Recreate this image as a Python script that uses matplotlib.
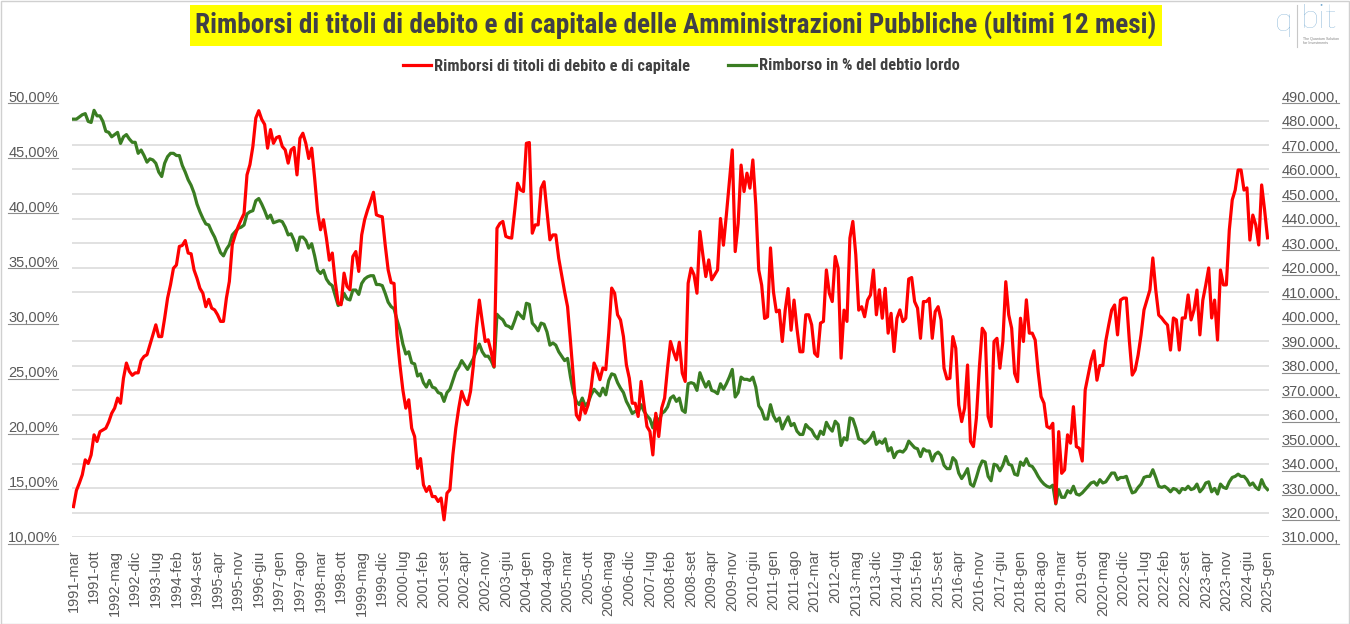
import numpy as np
import matplotlib
matplotlib.use("Agg")
import matplotlib.pyplot as plt
from matplotlib.lines import Line2D
from matplotlib.patches import Rectangle
from matplotlib import font_manager
from matplotlib.font_manager import FontProperties

# ---------------- data ----------------
mesi = ["gen", "feb", "mar", "apr", "mag", "giu", "lug", "ago", "set", "ott", "nov", "dic"]
start_year, start_month = 1991, 2      # 1991-mar (0-based month index)
n_months = 407                          # through 2025-gen
categories = []
for i in range(n_months):
    k = start_month + i
    categories.append(f"{start_year + k // 12}-{mesi[k % 12]}")

# Rimborsi di titoli di debito e di capitale (ultimi 12 mesi), thousands
rimborsi_k = [
    322.4, 329, 332, 335.4, 341.5, 340, 343.5, 351.7, 349, 353,
    353.7, 354.4, 357, 360.5, 362.6, 366.7, 364.6, 374.8, 381, 377.6,
    376, 377, 377, 382, 383.7, 384.4, 388.4, 392.5, 396.6, 391.8,
    391.8, 399.3, 407.5, 413, 419.7, 421, 428.6, 429, 431, 425.9,
    425.6, 419, 415.6, 411.5, 409.5, 404, 407, 403.4, 402.7, 400.7,
    398, 398, 407.5, 414.3, 429.3, 433.3, 436.7, 439.5, 442, 457.8,
    462, 469.4, 481, 484, 480.5, 478.4, 468.7, 476.3, 470.7, 473,
    473.5, 469.4, 468, 462.6, 468, 469, 457.8, 472.7, 474.8, 470.7,
    464.5, 468.7, 456.5, 442.9, 435.4, 439.5, 432, 423, 425.9, 414.3,
    405.4, 404.8, 417.7, 412.3, 410.9, 424.5, 426.5, 418.4, 433.3, 439.5,
    443.5, 447, 450.7, 441.5, 441, 440.7, 429.1, 419, 413.8, 413.5,
    392.4, 380.3, 370, 362.6, 366, 354.4, 351, 338, 342, 331.3,
    328.6, 330.6, 326.5, 326.5, 324.5, 325.9, 317, 327.9, 329.3, 343.5,
    354.4, 362.6, 369.4, 366,
    364, 369.4, 380.3, 395.2, 406.7, 398,
    389.8, 390.5, 385.7, 379.6, 436, 438, 438.8, 432.7, 432.2, 432,
    442.9, 454.4, 451.7, 451, 470.7, 471, 434, 437.4, 437.4, 452.4,
    455, 442.9, 431.3, 433.3, 433.3, 423.7, 416.9, 410.1, 404, 389.7,
    374.8, 359.8, 357.8, 364.6, 360.5, 364, 370.8, 381, 378.3, 374.2,
    379, 378.3, 393.2, 411.6, 409.5, 400.7, 398.6, 391.8, 380.3, 374.8,
    364.6, 364.6, 359.2, 373.5, 364, 355.1, 353.1, 343.5, 360.5, 351,
    362.6, 366.7, 379,
    389.8, 385.7, 382.3, 389.5, 376.9, 373.5, 413.6,
    419.7, 417, 409.5, 434.7, 425.2, 416.3, 423.1, 415, 417, 419,
    440, 429.1, 441.5, 455, 468, 426.5, 438, 461.8, 451, 458.5,
    452.4, 463.9, 445.6, 419, 412.8, 399.2, 399.9, 428, 410.1, 401.9,
    402.6, 389.8, 402.6, 411.4, 394.4, 406.7, 395.1, 385.6, 385.6, 400.7,
    400.7, 396.6, 385, 383.7, 397.3, 398, 419, 409.5, 406.1, 424.5,
    419.7, 383, 402.6, 398, 432, 438.8, 425.2, 402.6, 404, 399.9,
    406.7,
    408.8, 419.0, 400.7, 410.9, 399.3, 411.5, 393.2, 401.3, 385.7,
    399.3, 402.7, 397.9, 399.3, 415.3, 415.9, 406.1, 403.4, 391.1, 406.1,
    406.1, 407.4, 391.1, 402.0, 404.0, 398.6, 378.9, 374.5, 374.8, 391.8,
    387.0, 363.9, 357.1, 362.6, 380.2, 349.0, 346.9, 358.5, 378.9, 395.2,
    393.2, 359.2, 355.1, 389.8, 391.1, 378.9, 389.8, 414.2, 400.7, 395.2,
    376.8, 373.4, 399.3, 389.8, 406.8, 393.2, 393.2, 390.4, 377.5, 367.3,
    364.6, 355.1, 354.4, 356.4, 323.8, 353.0, 336.0, 337.4, 351.7, 348.3,
    363.2, 346.9, 346.2,
    341, 370, 376, 382, 386, 374, 380, 380, 390, 396.5,
    402.6, 404.7, 392.5, 406.7, 407.5, 407.5, 390.4, 376.1, 378.2, 384.3,
    392.5, 402.7, 406.7, 410.8, 423.9, 410.8, 400.6, 399.4, 397.8, 396.5,
    386.3, 399.4, 398.6, 386.3, 399.4, 399.4, 408.8, 398.6, 402.7, 410.8,
    392.5, 406.7, 412.9, 419.8, 399.4, 406.7, 390.4, 419, 412.9, 412.9,
    435.3, 447.6, 451.6, 459.8, 459.8, 451.6, 452.5, 431.2, 441.4, 437.4,
    429.2, 453.7, 443.5, 432.1,
]

# Rimborso in % del debito lordo
rimborso_pct = [
    47.9, 47.9, 48.1, 48.3, 48.4, 47.7, 47.6, 48.7, 48.2, 48.2,
    47.7, 46.8, 46.7, 46.3, 46.5, 46.7, 45.7, 46.3, 46.5, 46.1,
    45.8, 45.8, 44.8, 45.1, 44.6, 44.0, 44.3, 44.2, 43.9, 43.1,
    42.7, 43.9, 44.5, 44.8, 44.8, 44.6, 44.6, 43.7, 43.1, 42.4,
    41.9, 41.2, 40.2, 39.5, 38.9, 38.4, 38.3, 37.7, 37.2, 36.5,
    35.8, 35.5, 36.1, 36.5, 37.4, 37.7, 38.0, 38.1, 38.3, 39.3,
    39.5, 39.6, 40.5, 40.7, 40.2, 39.6, 38.9, 39.2, 38.5, 38.6,
    38.7, 38.6, 38.1, 37.4, 37.5, 36.9, 36.0, 37.2, 37.2, 36.9,
    36.2, 36.6, 35.5, 34.2, 33.9, 34.2, 33.4, 33.0, 32.8, 31.9,
    31.0, 31.2, 32.1, 31.6, 31.5, 32.4, 32.4, 32.0, 33.0, 33.4,
    33.6, 33.7, 33.7, 32.9, 32.9, 32.8, 32.1, 31.3, 30.9, 30.7,
    29.7, 28.8, 27.5, 26.6, 26.8, 25.8, 25.7, 24.6, 24.8, 24.0,
    23.6, 24.2, 23.6, 23.5, 23.1, 23.0, 22.3, 23.1, 23.4, 24.2,
    25.0, 25.4, 26.0, 25.6,
    25.2, 25.7, 26.2, 26.9, 27.5, 26.8,
    26.4, 26.4, 26.0, 25.4, 30.2, 29.9, 29.7, 29.2, 29.1, 28.9,
    29.6, 30.4, 30.1, 29.8, 31.2, 31.1, 29.4, 29.1, 28.7, 29.4,
    29.3, 28.6, 27.4, 27.6, 27.4, 26.8, 26.4, 26.0, 26.2, 24.5,
    23.1, 22.3, 22.0, 22.6, 21.9, 22.2, 22.9, 23.4, 23.1, 22.8,
    23.5, 22.9, 24.2, 24.8, 24.7, 24.0, 23.5, 23.1, 22.3, 21.8,
    21.2, 21.4, 21.3, 22.0, 21.4, 21.0, 20.7, 19.9, 21.0, 20.4,
    21.2, 21.4, 21.8,
    22.6, 22.8, 22.3, 22.6, 21.5, 21.3, 23.9,
    24.0, 23.9, 23.3, 24.9, 24.2, 23.6, 24.1, 23.3, 23.2, 23.0,
    23.9, 23.4, 23.9, 24.5, 25.2, 22.7, 23.1, 24.5, 24.3, 24.3,
    24.2, 24.5, 23.6, 21.9, 21.5, 20.7, 20.7, 22.0, 21.0, 20.5,
    20.8, 19.8, 20.4, 20.9, 20.1, 20.3, 19.6, 19.3, 19.3, 20.2,
    19.9, 19.7, 19.2, 18.9, 19.6, 19.3, 20.4, 19.9, 19.6, 20.5,
    20.2, 18.3, 19.0, 18.8, 20.8, 20.7, 19.9, 18.9, 18.8, 18.5,
    18.7,
    19.0, 19.5, 18.4, 18.7, 18.5, 18.9, 17.8, 18.1, 17.2,
    17.7, 17.8, 17.7, 18.0, 18.7, 18.4, 18.1, 18.0, 17.3, 18.0,
    17.8, 17.8, 16.9, 17.5, 17.7, 17.4, 16.5, 16.2, 16.2, 17.2,
    16.9, 15.8, 15.3, 15.7, 16.2, 14.8, 14.6, 15.4, 16.3, 16.9,
    16.8, 15.5, 15.1, 16.6, 16.5, 16.0, 16.5, 17.3, 16.6, 16.5,
    15.7, 15.6, 16.8, 16.5, 17.1, 16.5, 16.4, 16.0, 15.5, 15.1,
    14.8, 14.6, 14.5, 14.7, 13.0, 14.3, 13.6, 13.6, 14.2, 14.0,
    14.6, 13.9, 13.8,
    14.0, 14.3, 14.6, 14.9, 15.0, 14.7, 15.2, 14.9, 15.0, 15.4,
    15.8, 15.8, 15.2, 15.4, 15.4, 15.5, 14.7, 14.0, 14.1, 14.5,
    14.8, 15.4, 15.5, 15.5, 16.1, 15.4, 14.6, 14.5, 14.6, 14.4,
    14.1, 14.4, 14.3, 14.0, 14.4, 14.3, 14.6, 14.3, 14.4, 14.8,
    14.1, 14.4, 14.9, 15.0, 14.1, 14.4, 13.9, 14.8, 14.5, 14.4,
    15.0, 15.4, 15.5, 15.7, 15.5, 15.5, 15.2, 14.7, 14.9, 14.5,
    14.3, 15.2, 14.6, 14.3,
]

series_labels = ["Rimborsi di titoli di debito e di capitale", "Rimborso in % del debtio lordo"]
title = "Rimborsi di titoli di debito e di capitale delle Amministrazioni Pubbliche (ultimi 12 mesi)"


def fit(a):
    a = list(a)[:n_months]
    while len(a) < n_months:
        a.append(a[-1])
    return np.array(a, dtype=float)


rimborsi = fit(rimborsi_k) * 1000
pct = fit(rimborso_pct)
x = np.arange(n_months)

# ---------------- fonts ----------------
def _w(f):
    w = f.weight
    if isinstance(w, str):
        w = {"bold": 700, "semibold": 600, "demibold": 600, "medium": 500, "heavy": 800,
             "black": 900, "extra bold": 800, "normal": 400, "regular": 400}.get(w.lower(), 400)
    return w


def find_condensed(bold):
    best = None
    for f in font_manager.fontManager.ttflist:
        st = str(f.stretch).lower()
        cond = ("condensed" in st) or ("narrow" in f.name.lower()) or ("condensed" in f.name.lower())
        if not cond or f.style != "normal" or "semi" in st:
            continue
        w = _w(f)
        if bold and w < 600:
            continue
        if not bold and not (400 <= w <= 600):
            continue
        score = 0 if "liberation" in f.name.lower() else (1 if "roboto" in f.name.lower() else 2)
        if best is None or score < best[0]:
            best = (score, f.fname)
    return best[1] if best else None


cb = find_condensed(True)
title_fp = FontProperties(fname=cb) if cb else FontProperties(family="Liberation Sans", weight="bold")
legend_fp = FontProperties(fname=cb) if cb else FontProperties(family="Liberation Sans", weight="bold")
base = "Liberation Sans"

RED = "#FF0000"
GREEN = "#3A7D22"
GRAY_TXT = "#595959"
GRID = "#D9D9D9"

W, H = 1350, 624
fig = plt.figure(figsize=(W / 100, H / 100), dpi=100)
fig.patch.set_facecolor("white")

L, R, T, B = 72, 1269, 96, 537
ax = fig.add_axes([L / W, 1 - B / H, (R - L) / W, (B - T) / H])
ax2 = ax.twinx()

ax.set_ylim(10, 50)
ax.set_yticks(np.arange(10, 50.01, 5))
ax.set_yticks(np.linspace(10, 50, 19), minor=True)
ax.grid(which="minor", axis="y", color=GRID, lw=1.1)
ax.grid(which="major", axis="y", visible=False)
ax.set_axisbelow(True)

ax.plot(x, pct, color=GREEN, lw=2.3, solid_joinstyle="round", zorder=3)
ax2.plot(x, rimborsi, color=RED, lw=2.3, solid_joinstyle="round", zorder=3)

ax2.set_ylim(310000, 490000)
ax2.set_yticks(np.arange(310000, 490001, 10000))
ax.set_xlim(-0.5, n_months - 0.5)

for a in (ax, ax2):
    for s in a.spines.values():
        s.set_visible(False)
ax.axhline(10, color=GRID, lw=1.1, zorder=1)

ax.set_yticklabels([f"{v:.2f}%".replace(".", ",") for v in np.arange(10, 50.01, 5)],
                   fontfamily=base, fontsize=10.5, color=GRAY_TXT)
ax2.set_yticklabels([f"{int(v):,}".replace(",", ".") + "," for v in np.arange(310000, 490001, 10000)],
                    fontfamily=base, fontsize=10.5, color=GRAY_TXT)
ax.tick_params(axis="y", which="both", length=0, pad=10)
ax2.tick_params(axis="y", which="both", length=0, pad=9)

ticks = np.arange(0, n_months, 7)
ax.set_xticks(ticks)
ax.set_xticklabels([categories[i] for i in ticks], rotation=90, fontfamily=base,
                   fontsize=10.5, color=GRAY_TXT)
ax.tick_params(axis="x", length=0, pad=9)

# title with yellow box
fig.add_artist(Rectangle((190 / W, 1 - 46 / H), 972 / W, 41 / H, transform=fig.transFigure,
                         facecolor="#FFFF00", edgecolor="none", zorder=0))
ttl = fig.text(676 / W, 1 - 26 / H, title, ha="center", va="center", fontproperties=title_fp,
               color="#404048")
ttl.set_fontsize(20)

fig.canvas.draw()
rend = fig.canvas.get_renderer()
wt = ttl.get_window_extent(rend).width
ttl.set_fontsize(20 * 958 / wt)

# legend: fit first label to ~251 px
probe = fig.text(0, 0, series_labels[0], fontproperties=legend_fp)
probe.set_fontsize(11)
fig.canvas.draw()
wl = probe.get_window_extent(rend).width
probe.remove()
lsize = 11 * 251 / wl
fpx = lsize * 100 / 72
lp = legend_fp.copy()
lp.set_size(lsize)
handles = [Line2D([], [], color=RED, lw=2.3), Line2D([], [], color=GREEN, lw=2.3)]
leg = fig.legend(handles, series_labels, loc="center", bbox_to_anchor=(681 / W, 1 - 66 / H),
                 ncol=2, frameon=False, handlelength=28 / fpx, handletextpad=3 / fpx,
                 columnspacing=38 / fpx, borderpad=0, prop=lp)
for t in leg.get_texts():
    t.set_color("#404040")

# logo
fig.text(1284 / W, 1 - 22 / H, "q", ha="center", va="center", fontsize=24, color="#6FA6CF",
         fontfamily="Lato", fontweight="light")
fig.add_artist(Line2D([1297 / W, 1297 / W], [1 - 5 / H, 1 - 47 / H], transform=fig.transFigure,
                      color="#C8C8C8", lw=0.8))
fig.text(1301 / W, 1 - 19 / H, "bit", ha="left", va="center", fontsize=24, color="#6FA6CF",
         fontfamily="Lato", fontweight="light")
fig.text(1303 / W, 1 - 41 / H, "The Quantum Solution\nfor Investments", ha="left", va="center",
         fontsize=2.6, color="#808080", fontfamily=base, linespacing=1.1)

# border
fig.add_artist(Rectangle((0.5 / W, 0.5 / H), (W - 1.5) / W, (H - 1.5) / H, transform=fig.transFigure,
                         fill=False, edgecolor="#D0D0D0", lw=1.0))

# underline y tick labels
fig.canvas.draw()
for lbl in list(ax.get_yticklabels()) + list(ax2.get_yticklabels()):
    if not lbl.get_visible() or not lbl.get_text():
        continue
    bb = lbl.get_window_extent(rend)
    y = (bb.y0 + 1.5) / H
    fig.add_artist(Line2D([bb.x0 / W, bb.x1 / W], [y, y], transform=fig.transFigure,
                          color="#8C8C8C", lw=0.8))

fig.savefig("out.png", dpi=100, facecolor="white")
